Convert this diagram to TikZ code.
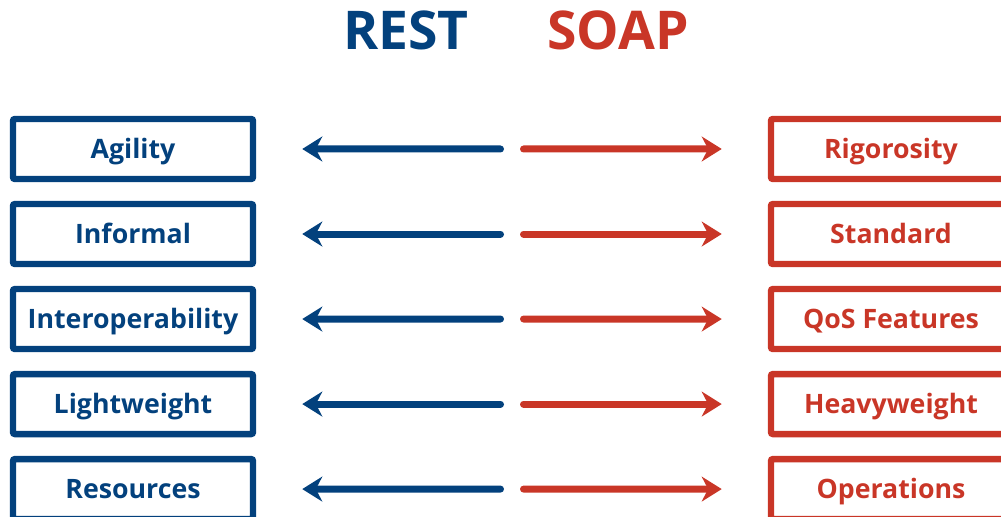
\documentclass[tikz,border=0pt]{standalone}
\usepackage{fontspec}
\setmainfont{Open Sans}
\usepackage{xcolor}
\usepackage{tikz}
\usetikzlibrary{arrows.meta, positioning, calc}

\definecolor{restblue}{HTML}{03417D}
\definecolor{soapred}{HTML}{C93627}

\begin{document}
\begin{tikzpicture}[
  x=0.025cm, y=-0.025cm,
  box/.style={draw, line width=0.16cm, rounded corners=0.05cm,
    minimum width=6cm, minimum height=1.5cm, inner sep=0pt,
    text height=0.475cm, text depth=0pt,
    font=\fontsize{19}{22}\selectfont\bfseries},
  restbox/.style={box, draw=restblue, text=restblue},
  soapbox/.style={box, draw=soapred, text=soapred},
  title/.style={anchor=base, font=\fontsize{38}{44}\selectfont\bfseries},
  arrow/.style={-{Stealth[length=0.5cm, width=0.62cm, inset=0.16cm]},
    line width=0.175cm, line cap=round,
    shorten <=0.2875cm, shorten >=1.15cm},
  node distance=0.465cm
]
\clip (0,0) rectangle (1001,517);
\useasboundingbox (0,0) rectangle (1001,517);

\node[title, text=restblue] (rest) at (406,50) {REST};
\node[title, text=soapred] (soap) at (618,50) {SOAP};

\node[restbox] (r1) at (133,149) {Agility};
\node[restbox, below=of r1] (r2) {Informal};
\node[restbox, below=of r2] (r3) {Interoperability};
\node[restbox, below=of r3] (r4) {Lightweight};
\node[restbox, below=of r4] (r5) {Resources};

\node[soapbox] (s1) at (891,149) {Rigorosity};
\node[soapbox, below=of s1] (s2) {Standard};
\node[soapbox, below=of s2] (s3) {QoS Features};
\node[soapbox, below=of s3] (s4) {Heavyweight};
\node[soapbox, below=of s4] (s5) {Operations};

% midpoints between the two columns
\coordinate (m1) at ($(r1.east)!0.5!(s1.west)$);
\coordinate (m2) at ($(r2.east)!0.5!(s2.west)$);
\coordinate (m3) at ($(r3.east)!0.5!(s3.west)$);
\coordinate (m4) at ($(r4.east)!0.5!(s4.west)$);
\coordinate (m5) at ($(r5.east)!0.5!(s5.west)$);

\draw[arrow, restblue] (m1) -- (r1.east);
\draw[arrow, soapred] (m1) -- (s1.west);
\draw[arrow, restblue] (m2) -- (r2.east);
\draw[arrow, soapred] (m2) -- (s2.west);
\draw[arrow, restblue] (m3) -- (r3.east);
\draw[arrow, soapred] (m3) -- (s3.west);
\draw[arrow, restblue] (m4) -- (r4.east);
\draw[arrow, soapred] (m4) -- (s4.west);
\draw[arrow, restblue] (m5) -- (r5.east);
\draw[arrow, soapred] (m5) -- (s5.west);
\end{tikzpicture}
\end{document}
